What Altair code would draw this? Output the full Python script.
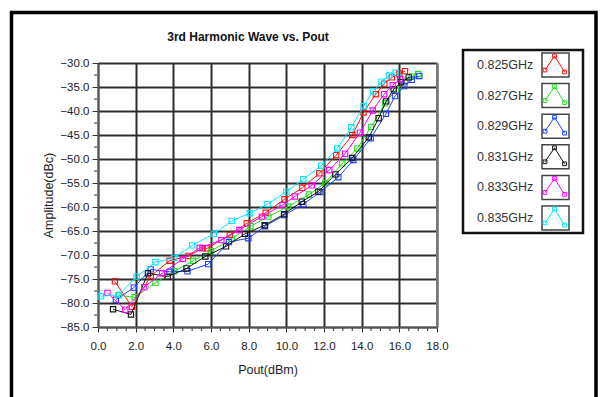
import altair as alt
import pandas as pd

# ---- series data: output power (dBm) vs. 3rd harmonic amplitude (dBc) ----
freq_labels = ["0.825GHz", "0.827GHz", "0.829GHz", "0.831GHz", "0.833GHz", "0.835GHz"]
line_colors = ["#ff1010", "#22e022", "#1f3fff", "#111111", "#ff00ff", "#00e8ff"]

pout_825 = [0.9, 1.8, 2.8, 3.8, 4.8, 5.55, 5.8, 7.0, 7.9, 8.9, 9.9, 10.85, 11.75, 12.65,
            13.5, 14.1, 14.75, 15.2, 15.6, 16.0, 16.3]
amp_825 = [-75.5, -80.8, -74.4, -71.2, -70.2, -68.6, -68.6, -65.8, -63.4, -61.2, -58.4, -56.0,
           -53.0, -49.2, -45.0, -40.3, -36.5, -34.3, -33.0, -32.2, -31.7]

pout_827 = [1.1, 1.95, 3.05, 4.05, 5.05, 6.0, 7.1, 8.1, 9.05, 10.1, 11.2, 12.06, 12.97,
            13.77, 14.5, 15.24, 15.83, 16.3, 16.66, 17.0]
amp_827 = [-78.4, -78.8, -75.8, -73.4, -71.2, -69.2, -66.6, -64.0, -62.0, -59.9, -57.4, -55.0,
           -50.9, -47.8, -43.3, -38.4, -35.5, -33.7, -32.8, -32.3]

pout_829 = [0.95, 1.9, 2.8, 3.8, 4.75, 5.85, 6.95, 7.98, 8.87, 9.89, 10.9, 11.8, 12.76,
            13.56, 14.48, 15.29, 15.77, 16.27, 16.66, 17.06]
amp_829 = [-79.3, -76.8, -73.0, -73.5, -73.4, -71.9, -67.3, -66.5, -64.0, -61.7, -59.4, -56.9,
           -53.8, -50.2, -45.7, -40.6, -36.9, -34.8, -33.5, -32.7]

pout_831 = [0.8, 1.75, 2.65, 3.7, 4.7, 5.7, 6.8, 7.8, 8.85, 9.88, 10.82, 11.7, 12.6, 13.5,
            14.38, 14.9, 15.3, 15.7, 16.1, 16.5]
amp_831 = [-81.3, -82.4, -73.8, -74.5, -72.8, -70.3, -68.2, -65.6, -63.8, -61.5, -58.9, -56.8,
           -53.2, -49.8, -45.5, -41.5, -38.0, -35.5, -34.0, -33.0]

pout_833 = [0.5, 1.45, 2.45, 3.4, 4.5, 5.4, 6.55, 7.5, 8.7, 9.8, 10.45, 11.35, 12.28, 13.12,
            13.91, 14.59, 15.19, 15.65, 16.04]
amp_833 = [-77.9, -81.4, -76.7, -73.8, -70.8, -68.5, -66.9, -64.8, -62.0, -59.6, -57.8, -55.5,
           -52.3, -48.9, -44.5, -39.9, -36.5, -34.6, -33.4]

pout_835 = [0.15, 1.1, 2.05, 3.05, 4.05, 5.0, 6.15, 7.1, 8.05, 9.0, 10.0, 10.9, 11.85, 12.7,
            13.45, 14.1, 14.6, 15.05, 15.45, 15.8]
amp_835 = [-78.6, -78.3, -74.5, -71.5, -70.6, -68.0, -65.6, -62.9, -61.3, -59.4, -56.8, -54.2,
           -51.4, -47.8, -43.4, -39.0, -35.9, -33.9, -32.6, -32.0]

pout_series = [pout_825, pout_827, pout_829, pout_831, pout_833, pout_835]
amp_series = [amp_825, amp_827, amp_829, amp_831, amp_833, amp_835]

# ---- axis ticks ----
x_major = [0, 2, 4, 6, 8, 10, 12, 14, 16, 18]
x_minor = [v / 2 for v in range(0, 37) if v % 4 != 0]
y_major = [-30, -35, -40, -45, -50, -55, -60, -65, -70, -75, -80, -85]
y_minor = [-32.5, -37.5, -42.5, -47.5, -52.5, -57.5, -62.5, -67.5, -72.5, -77.5, -82.5]

# ---- layout (pixels) ----
W, H = 339, 264          # plot area
LEFT, TOP = 98, 63       # plot area origin inside the 601x397 canvas
FONT = "Liberation Sans"
GRID = "#2e2e2e"

x_scale = alt.Scale(domain=[0, 18], nice=False, zero=False)
y_scale = alt.Scale(domain=[-85, -30], nice=False, zero=False)

x_axis = alt.Axis(values=x_major, format=".1f", title="Pout(dBm)", grid=True,
                  gridColor=GRID, gridWidth=2, domainColor="#555", domainWidth=1.5,
                  tickColor="#333", tickSize=5, labelPadding=8, labelFont=FONT,
                  labelFontSize=11.5, labelColor="#222", labelFlush=False, labelBound=False,
                  titleFont=FONT, titleFontSize=12.5, titleFontWeight="normal",
                  titleColor="#222", titlePadding=12)
y_axis = alt.Axis(values=y_major, format=".1f", title="Amplitude(dBc)", grid=True,
                  gridColor=GRID, gridWidth=2, domainColor="#555", domainWidth=1.5,
                  tickColor="#333", tickSize=6, labelPadding=3, labelFont=FONT,
                  labelFontSize=11.5, labelColor="#222", labelFlush=False, labelBound=False,
                  titleFont=FONT, titleFontSize=12.5, titleFontWeight="normal",
                  titleColor="#222", titlePadding=4)


def xq(field):
    return alt.X(f"{field}:Q", scale=x_scale, axis=x_axis)


def yq(field):
    return alt.Y(f"{field}:Q", scale=y_scale, axis=y_axis)


one = pd.DataFrame({"k": [0]})

layers = []

# axes + grid carrier
frame_df = pd.DataFrame({"pout": [0, 18], "amp": [-85, -30]})
layers.append(
    alt.Chart(frame_df).mark_point(opacity=0).encode(x=xq("pout"), y=yq("amp"))
)

# right border of the plot area
layers.append(
    alt.Chart(one).mark_rule(color="#777", strokeWidth=2).encode(
        x=alt.value(W), y=alt.value(0), y2=alt.value(H))
)

# minor ticks
layers.append(
    alt.Chart(pd.DataFrame({"pout": x_minor})).mark_rule(color="#333", strokeWidth=1).encode(
        x=xq("pout"), y=alt.value(H + 1), y2=alt.value(H + 4))
)
layers.append(
    alt.Chart(pd.DataFrame({"amp": y_minor})).mark_rule(color="#333", strokeWidth=1).encode(
        y=yq("amp"), x=alt.value(-4), x2=alt.value(-1))
)

# series: line + open square markers
for name, color, xs, ys in zip(freq_labels, line_colors, pout_series, amp_series):
    df = pd.DataFrame({"pout": xs, "amp": ys, "idx": list(range(len(xs)))})
    base = alt.Chart(df)
    layers.append(
        base.mark_line(color=color, strokeWidth=1).encode(
            x=xq("pout"), y=yq("amp"), order="idx:Q")
    )
    layers.append(
        base.mark_point(shape="square", filled=False, color=color, size=28,
                        strokeWidth=1.1, opacity=1).encode(x=xq("pout"), y=yq("amp"))
    )

# chart heading
layers.append(
    alt.Chart(one).mark_text(text="3rd Harmonic Wave vs. Pout", font=FONT, fontSize=12,
                             fontWeight="bold", color="#111", align="center",
                             baseline="middle").encode(
        x=alt.value(248 - LEFT), y=alt.value(37 - TOP))
)

# legend box
layers.append(
    alt.Chart(one).mark_rect(fill="white", stroke="#111", strokeWidth=2.5).encode(
        x=alt.value(463 - LEFT), x2=alt.value(583 - LEFT),
        y=alt.value(50 - TOP), y2=alt.value(233 - TOP))
)
for i, (name, color) in enumerate(zip(freq_labels, line_colors)):
    cy = 65 + 30.6 * i
    layers.append(
        alt.Chart(one).mark_text(text=name, font=FONT, fontSize=12.5, color="#333",
                                 align="left", baseline="middle").encode(
            x=alt.value(477 - LEFT), y=alt.value(cy - TOP))
    )
    layers.append(
        alt.Chart(one).mark_rect(fill="white", stroke="#444", strokeWidth=1.5).encode(
            x=alt.value(542 - LEFT), x2=alt.value(569 - LEFT),
            y=alt.value(cy - 12 - TOP), y2=alt.value(cy + 12 - TOP))
    )
    layers.append(
        alt.Chart(one).mark_rule(color=color, strokeWidth=1).encode(
            x=alt.value(545 - LEFT), y=alt.value(cy + 5 - TOP),
            x2=alt.value(554.5 - LEFT), y2=alt.value(cy - 9 - TOP))
    )
    layers.append(
        alt.Chart(one).mark_rule(color=color, strokeWidth=1).encode(
            x=alt.value(554.5 - LEFT), y=alt.value(cy - 9 - TOP),
            x2=alt.value(564.5 - LEFT), y2=alt.value(cy + 7 - TOP))
    )
    for (px, py) in [(545, cy + 5), (554.5, cy - 9), (564.5, cy + 7)]:
        layers.append(
            alt.Chart(one).mark_point(shape="square", filled=False, color=color, size=14,
                                      strokeWidth=1, opacity=1).encode(
                x=alt.value(px - LEFT), y=alt.value(py - TOP))
        )

# outer frame
layers.append(
    alt.Chart(one).mark_rect(fill="transparent", stroke="#000", strokeWidth=3.5).encode(
        x=alt.value(11.5 - LEFT), x2=alt.value(596 - LEFT),
        y=alt.value(12.5 - TOP), y2=alt.value(420 - TOP))
)

chart = alt.layer(*layers).properties(
    width=W, height=H,
    autosize=alt.AutoSizeParams(type="none"),
    padding={"left": LEFT, "top": TOP, "right": 601 - LEFT - W, "bottom": 397 - TOP - H},
    background="white",
).configure_view(strokeWidth=0)

chart.save("out.html", embed_options={"renderer": "svg", "actions": False})
